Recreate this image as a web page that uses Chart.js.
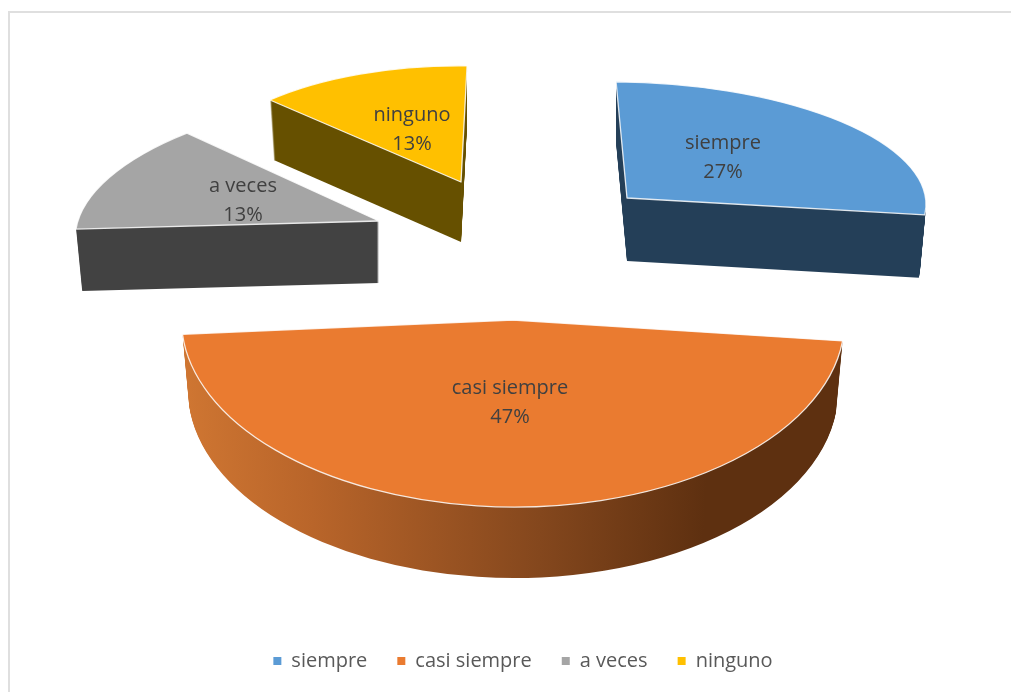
<!DOCTYPE html>
<html>
<head>
<meta charset="utf-8">
<style>
html,body{margin:0;padding:0;background:#fff;overflow:hidden;width:1011px;height:692px}
#frame{position:absolute;left:8px;top:11px;width:1100px;height:800px;border-left:2px solid #dfdfdf;border-top:2px solid #dfdfdf}
canvas{position:absolute;left:0;top:0}
</style>
<script src="https://cdn.jsdelivr.net/npm/chart.js@4/dist/chart.umd.min.js"></script>
</head>
<body>
<div id="frame"></div>
<canvas id="c" width="1046" height="692" style="width:1046px;height:692px"></canvas>
<script>
const categories = ['siempre', 'casi siempre', 'a veces', 'ninguno'];
const values = [27, 47, 13, 13];
const sliceColors = ['#5b9bd5', '#ea7b30', '#a5a5a5', '#ffc000'];
// Side-wall colour stops across each slice's local width.
const wallStops = [
  [[0, '#243f58'], [1, '#243f58']],
  [[0, '#cf7632'], [0.2, '#b9652a'], [0.55, '#84471d'], [0.8, '#5e3010'], [1, '#5e3010']],
  [[0, '#424242'], [1, '#424242']],
  [[0, '#665000'], [0.5, '#665000'], [0.503, '#c9a21e'], [1, '#c9a21e']]
];
// View of each exploded slice: [a, b, c, d, e, f] of the tilted, perspective projection.
const sliceViews = [
  [299, 6.3, 0.5, 116, 627, 198],
  [331.5, 4, -6, 187, 513, 320],
  [299.5, 4.5, -50.5, 128.3, 379, 221],
  [267.4, 7.5, -15.4, 115.9, 461, 182]
];
const sliceDepths = [63, 71, 62, 60];
const labelCenters = [[723, 158], [510, 403], [243, 201], [412, 130]];

const tilted3d = {
  id: 'tilted3d',
  beforeDatasetDraw(chart) {
    const ctx = chart.ctx;
    const arcs = chart.getDatasetMeta(0).data;
    const base = ctx.getTransform();
    const place = (arc, i, layer) => {
      const v = sliceViews[i];
      const r = arc.outerRadius;
      const shrink = 1 - 0.02 * layer / sliceDepths[i];
      ctx.setTransform(base);
      ctx.translate(v[4], v[5] + layer);
      ctx.transform(v[0] * shrink / r, v[1] / r, v[2] * shrink / r, v[3] / r, 0, 0);
      ctx.translate(-arc.x, -arc.y);
    };
    const trace = (arc) => {
      ctx.beginPath();
      ctx.moveTo(arc.x, arc.y);
      ctx.arc(arc.x, arc.y, arc.outerRadius, arc.startAngle, arc.endAngle);
      ctx.closePath();
    };
    [3, 2, 0, 1].forEach((i) => {
      const arc = arcs[i];
      const r = arc.outerRadius;
      ctx.save();
      for (let layer = sliceDepths[i]; layer >= 1; layer--) {
        place(arc, i, layer);
        const g = ctx.createLinearGradient(arc.x - r, 0, arc.x + r, 0);
        wallStops[i].forEach((s) => g.addColorStop(s[0], s[1]));
        ctx.fillStyle = g;
        trace(arc);
        ctx.fill();
      }
      place(arc, i, 0);
      trace(arc);
      ctx.fillStyle = sliceColors[i];
      ctx.fill();
      ctx.setTransform(base);
      ctx.strokeStyle = 'rgba(255,255,255,0.85)';
      ctx.lineWidth = 1.3;
      ctx.lineJoin = 'round';
      ctx.stroke();
      ctx.restore();
    });
    ctx.save();
    ctx.font = '20px "Open Sans"';
    ctx.fillStyle = '#404040';
    ctx.textAlign = 'center';
    ctx.textBaseline = 'middle';
    const total = values.reduce((a, b) => a + b, 0);
    categories.forEach((name, i) => {
      const [x, y] = labelCenters[i];
      ctx.fillText(name, x, y - 15);
      ctx.fillText(Math.round(values[i] / total * 100) + '%', x, y + 14);
    });
    ctx.restore();
    return false;
  }
};

new Chart(document.getElementById('c'), {
  type: 'pie',
  data: {
    labels: categories,
    datasets: [{ data: values, backgroundColor: sliceColors, borderWidth: 0 }]
  },
  plugins: [tilted3d],
  options: {
    responsive: false,
    animation: false,
    rotation: -2,
    layout: { padding: { bottom: 11 } },
    plugins: {
      tooltip: { enabled: false },
      legend: {
        position: 'bottom',
        labels: {
          boxWidth: 8,
          boxHeight: 8,
          padding: 30,
          color: '#595959',
          font: { family: 'Open Sans', size: 20 }
        }
      }
    }
  }
});
</script>
</body>
</html>
